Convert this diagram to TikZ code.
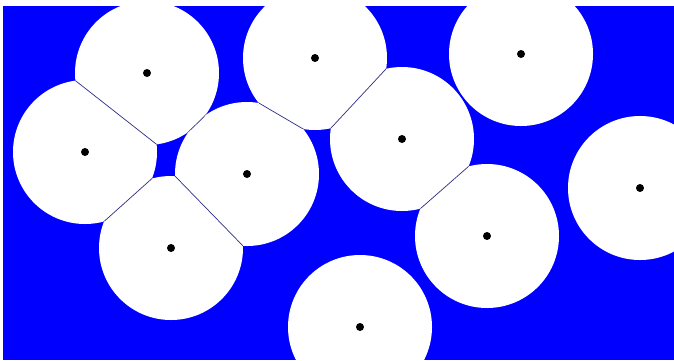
\documentclass[tikz,border=0pt]{standalone}
\usetikzlibrary{calc}
\definecolor{bg}{RGB}{0,0,255}
\definecolor{sepc}{RGB}{45,45,130}
\tikzset{
  disk/.style={circle,fill=white,draw=none,minimum size=144pt,inner sep=0pt},
  sepline/.style={draw=sepc,line width=0.7pt},
  centerdot/.style={fill=black}
}
\newcommand{\sepchord}[2]{%
  \begin{scope}
    \clip ($(#1)$) circle (72pt);
    \draw[sepline] ($(#1)!0.5!(#2)!3!90:(#2)$) -- ($(#1)!0.5!(#2)!3!-90:(#2)$);
  \end{scope}}
\begin{document}
\begin{tikzpicture}[x=1pt,y=-1pt]
\useasboundingbox (0,0) rectangle (674,360);
\fill[white] (0,0) rectangle (674,360);
\begin{scope}
\clip (3,6) rectangle (674,360);
\fill[bg] (3,6) rectangle (674,360);
\node[disk] (c1) at (147,73) {};
\node[disk] (c2) at (85,152) {};
\node[disk] (c3) at (315,58) {};
\node[disk] (c4) at (521,54) {};
\node[disk] (c5) at (402,139) {};
\node[disk] (c6) at (247,174) {};
\node[disk] (c7) at (171,248) {};
\node[disk] (c8) at (640,188) {};
\node[disk] (c9) at (487,236) {};
\node[disk] (c10) at (360,327) {};
\sepchord{c1}{c2}
\sepchord{c2}{c7}
\sepchord{c7}{c6}
\sepchord{c1}{c6}
\sepchord{c3}{c6}
\sepchord{c3}{c5}
\sepchord{c5}{c9}
\foreach \i in {1,...,10} {\fill[centerdot] (c\i.center) circle (4pt);}
\end{scope}
\end{tikzpicture}
\end{document}
